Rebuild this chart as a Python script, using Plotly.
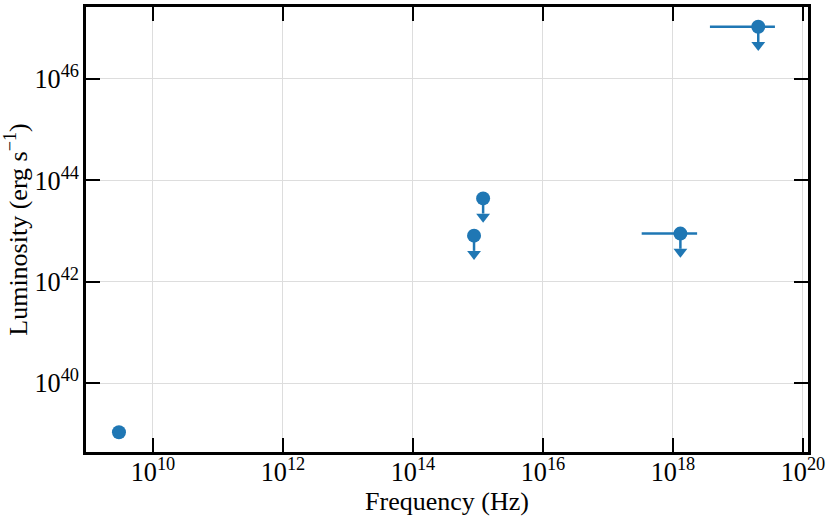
import numpy as np
import plotly.graph_objects as go

# Frequency (Hz) and luminosity (erg/s)
freq = [3.0e9, 1.2e15, 8.7e14, 1.3e18, 2.05e19]
lum = [1.07e39, 4.4e43, 8.1e42, 8.9e42, 1.07e47]
freq_lo = [3.0e9, 1.2e15, 8.7e14, 3.3e17, 3.7e18]
freq_hi = [3.0e9, 1.2e15, 8.7e14, 2.35e18, 3.7e19]
upper_limit = [False, True, True, True, True]

blue = "#1f77b4"
f = np.array(freq)
L = np.array(lum)
ul = np.array(upper_limit)

err_plus = np.array(freq_hi) - f
err_minus = f - np.array(freq_lo)

# arrow shaft for upper limits (fixed length in log space)
shaft = np.where(ul, L - L * 10 ** -0.3, 0)

fig = go.Figure()
fig.add_trace(go.Scatter(
    x=f, y=L, mode="markers",
    marker=dict(color=blue, size=14),
    error_x=dict(type="data", symmetric=False, array=err_plus, arrayminus=err_minus,
                 color=blue, thickness=2.5, width=0),
    error_y=dict(type="data", symmetric=False, array=np.zeros(len(L)), arrayminus=shaft,
                 color=blue, thickness=2.5, width=0),
    showlegend=False,
))
fig.add_trace(go.Scatter(
    x=f[ul], y=L[ul] * 10 ** -0.36, mode="markers",
    marker=dict(color=blue, size=12, symbol="triangle-down"),
    showlegend=False,
))

axis_common = dict(
    type="log", dtick=2, exponentformat="power", automargin=False,
    showline=True, linecolor="black", linewidth=2.5, mirror="ticks",
    ticks="inside", ticklen=14, tickwidth=2, tickcolor="black",
    showgrid=True, gridcolor="#dddddd", gridwidth=1,
    zeroline=False,
    tickfont=dict(family="Liberation Serif", size=21, color="black"),
)

fig.update_layout(
    width=831, height=519,
    margin=dict(l=86, r=23, t=7, b=67),
    plot_bgcolor="white", paper_bgcolor="white",
    font=dict(family="Liberation Serif", color="black"),
    xaxis=dict(axis_common, range=[8.97, 20.077], ticklabelstandoff=-4,
               title=dict(text="Frequency (Hz)", font=dict(size=26), standoff=0)),
    yaxis=dict(axis_common, range=[38.64, 47.42],
               title=dict(text="Luminosity (erg s<sup>\u22121</sup>)", font=dict(size=26), standoff=12)),
)

# drop the default page margin so the figure fills the window
fig.write_html("out.html", config={"displayModeBar": False},
               post_script="document.body.style.margin='0';")
